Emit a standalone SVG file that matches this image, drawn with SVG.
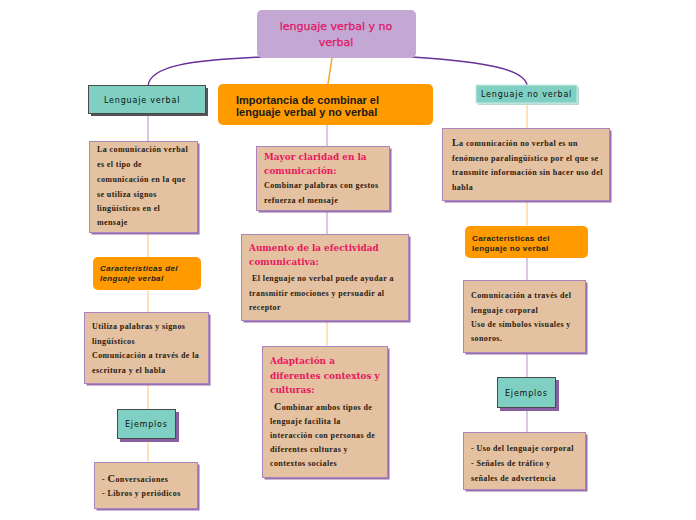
<svg xmlns="http://www.w3.org/2000/svg" width="696" height="520" viewBox="0 0 696 520">
<defs>
<style>
.tan{fill:#e4c1a1;stroke:#a886bd;stroke-width:1}
.sh{fill:#9a6fae}
.teal{fill:#7fd0c3;stroke:#4a4a4a;stroke-width:1}
.org{fill:#ff9b00}
.body{font-family:"Liberation Serif","DejaVu Serif",serif;font-weight:bold;font-size:8px;fill:#2a1a10;letter-spacing:0.4px}
.ttl{font-family:"DejaVu Serif","Liberation Serif",serif;font-weight:bold;font-size:8.9px;fill:#e8175d}
.tl{font-family:"DejaVu Sans","Liberation Sans",sans-serif;font-size:8px;fill:#111;letter-spacing:0.8px}
.ob{font-family:"Liberation Sans","DejaVu Sans",sans-serif;font-weight:bold;font-size:8px;fill:#222;letter-spacing:0.35px}
.cl{fill:none;stroke:#cfb3de;stroke-width:1.5}
.co{fill:none;stroke:#ffd9a0;stroke-width:1.5}
</style>
</defs>
<rect width="696" height="520" fill="#ffffff"/>
<g id="connectors">
<path d="M262 57 C190 60 150 66 148 86" fill="none" stroke="#6b2f98" stroke-width="1.5"/>
<path d="M412 57 C490 62 524 70 527 85" fill="none" stroke="#6b2f98" stroke-width="1.5"/>
<path d="M332 58 L328 84" fill="none" stroke="#f5a623" stroke-width="1.5"/>
<path class="cl" d="M148 114 V141"/>
<path class="co" d="M148 233 V257"/>
<path class="co" d="M148 290 V312"/>
<path class="co" d="M148 384 V409"/>
<path class="co" d="M148 439 V462"/>
<path class="cl" d="M327 125 V146"/>
<path class="cl" d="M327 211 V234"/>
<path class="co" d="M327 321 V346"/>
<path class="co" d="M527 103 V128"/>
<path class="co" d="M527 201 V226"/>
<path class="cl" d="M527 258 V280"/>
<path class="cl" d="M527 353 V377"/>
<path class="cl" d="M527 408 V432"/>
</g>
<g id="root">
<rect x="257" y="10" width="159" height="48" rx="5" fill="#c3a8d3"/>
<text x="336" y="30" text-anchor="middle" font-family="DejaVu Sans, sans-serif" font-size="11" fill="#e0156a" stroke="#e0156a" stroke-width="0.25">lenguaje verbal y no</text>
<text x="336" y="46" text-anchor="middle" font-family="DejaVu Sans, sans-serif" font-size="11" fill="#e0156a" stroke="#e0156a" stroke-width="0.25">verbal</text>
</g>
<g id="lv">
<rect x="91" y="88" width="117" height="28" fill="#555"/>
<rect class="teal" x="88.5" y="85.5" width="117" height="28"/>
<text class="tl" x="104" y="103">Lenguaje verbal</text>
</g>
<g id="lv-def">
<rect class="sh" x="91.5" y="143.5" width="108" height="91"/>
<rect class="tan" x="89.5" y="141.5" width="108" height="91"/>
<text class="body" x="97" y="152">La comunicación verbal</text>
<text class="body" x="97" y="167">es el tipo de</text>
<text class="body" x="97" y="182">comunicación en la que</text>
<text class="body" x="97" y="197">se utiliza signos</text>
<text class="body" x="97" y="211">lingüísticos en el</text>
<text class="body" x="97" y="225">mensaje</text>
</g>
<g id="lv-car">
<rect class="org" x="93" y="257" width="108" height="33" rx="5"/>
<text class="ob" x="100" y="271" font-style="italic" font-size="8.4">Características del</text>
<text class="ob" x="100" y="281" font-style="italic" font-size="8.4">lenguaje verbal</text>
</g>
<g id="lv-car-txt">
<rect class="sh" x="86.5" y="314.5" width="124" height="71"/>
<rect class="tan" x="84.5" y="312.5" width="124" height="71"/>
<text class="body" x="92" y="329">Utiliza palabras y signos</text>
<text class="body" x="92" y="344">lingüísticos</text>
<text class="body" x="92" y="358">Comunicación a través de la</text>
<text class="body" x="92" y="373">escritura y el habla</text>
</g>
<g id="lv-ej">
<rect x="120" y="412" width="59" height="30" fill="#8a5fa0"/>
<rect class="teal" x="117.5" y="409.5" width="58" height="29"/>
<text class="tl" x="125" y="427">Ejemplos</text>
</g>
<g id="lv-ej-txt">
<rect class="sh" x="96.5" y="464.5" width="103" height="46"/>
<rect class="tan" x="94.5" y="462.5" width="103" height="46"/>
<text class="body" x="102" y="482" font-size="8.8" letter-spacing="1">- <tspan font-size="10.5">C</tspan>onversaciones</text>
<text class="body" x="102" y="496" font-size="8.8" letter-spacing="0.8">- Libros y periódicos</text>
</g>
<g id="imp">
<rect class="org" x="218" y="84" width="215" height="41" rx="5"/>
<text x="236" y="104" font-family="Liberation Sans, sans-serif" font-weight="bold" font-size="11" fill="#1a1a1a">Importancia de combinar el</text>
<text x="236" y="116" font-family="Liberation Sans, sans-serif" font-weight="bold" font-size="11" fill="#1a1a1a">lenguaje verbal y no verbal</text>
</g>
<g id="imp1">
<rect class="sh" x="258.5" y="148.5" width="133" height="64"/>
<rect class="tan" x="256.5" y="146.5" width="133" height="64"/>
<text class="ttl" x="264" y="160">Mayor claridad en la</text>
<text class="ttl" x="264" y="174">comunicación:</text>
<text class="body" x="264" y="188">Combinar palabras con gestos</text>
<text class="body" x="264" y="203">refuerza el mensaje</text>
</g>
<g id="imp2">
<rect class="sh" x="243.5" y="236.5" width="167" height="86"/>
<rect class="tan" x="241.5" y="234.5" width="167" height="86"/>
<text class="ttl" x="249" y="251">Aumento de la efectividad</text>
<text class="ttl" x="249" y="265">comunicativa:</text>
<text class="body" x="252" y="281">El lenguaje no verbal puede ayudar a</text>
<text class="body" x="249" y="296">transmitir emociones y persuadir al</text>
<text class="body" x="249" y="310">receptor</text>
</g>
<g id="imp3">
<rect class="sh" x="264.5" y="348.5" width="125" height="131"/>
<rect class="tan" x="262.5" y="346.5" width="125" height="131"/>
<text class="ttl" x="270" y="364">Adaptación a</text>
<text class="ttl" x="270" y="379">diferentes contextos y</text>
<text class="ttl" x="270" y="393">culturas:</text>
<text class="body" x="274" y="410"><tspan font-size="10">C</tspan>ombinar ambos tipos de</text>
<text class="body" x="270" y="424">lenguaje facilita la</text>
<text class="body" x="270" y="438">interacción con personas de</text>
<text class="body" x="270" y="452">diferentes culturas y</text>
<text class="body" x="270" y="466">contextos sociales</text>
</g>
<g id="lnv">
<rect x="478" y="87" width="101" height="18" fill="#b8d8d2"/>
<rect x="476" y="85" width="101" height="18" fill="#7fd0c3" stroke="#c9ece6" stroke-width="1"/>
<text class="tl" x="481" y="97">Lenguaje no verbal</text>
</g>
<g id="lnv-def">
<rect class="sh" x="444.5" y="130.5" width="167" height="72"/>
<rect class="tan" x="442.5" y="128.5" width="167" height="72"/>
<text class="body" x="452" y="146" letter-spacing="0.1"><tspan font-size="10">L</tspan>a comunicación no verbal es un</text>
<text class="body" x="452" y="161" letter-spacing="0.15">fenómeno paralingüístico por el que se</text>
<text class="body" x="452" y="175" letter-spacing="0.15">transmite información sin hacer uso del</text>
<text class="body" x="452" y="190" letter-spacing="0.15">habla</text>
</g>
<g id="lnv-car">
<rect class="org" x="465" y="226" width="123" height="32" rx="5"/>
<text class="ob" x="472" y="241">Características del</text>
<text class="ob" x="472" y="251">lenguaje no verbal</text>
</g>
<g id="lnv-car-txt">
<rect class="sh" x="465.5" y="282.5" width="122" height="72"/>
<rect class="tan" x="463.5" y="280.5" width="122" height="72"/>
<text class="body" x="471" y="298">Comunicación a través del</text>
<text class="body" x="471" y="313">lenguaje corporal</text>
<text class="body" x="471" y="327">Uso de símbolos visuales y</text>
<text class="body" x="471" y="341">sonoros.</text>
</g>
<g id="lnv-ej">
<rect x="500" y="380" width="59" height="31" fill="#8a5fa0"/>
<rect class="teal" x="497.5" y="377.5" width="58" height="30"/>
<text class="tl" x="505" y="396">Ejemplos</text>
</g>
<g id="lnv-ej-txt">
<rect class="sh" x="465.5" y="434.5" width="122" height="57"/>
<rect class="tan" x="463.5" y="432.5" width="122" height="57"/>
<text class="body" x="471" y="451">- Uso del lenguaje corporal</text>
<text class="body" x="471" y="466">- Señales de tráfico y</text>
<text class="body" x="471" y="481">señales de advertencia</text>
</g>
</svg>
